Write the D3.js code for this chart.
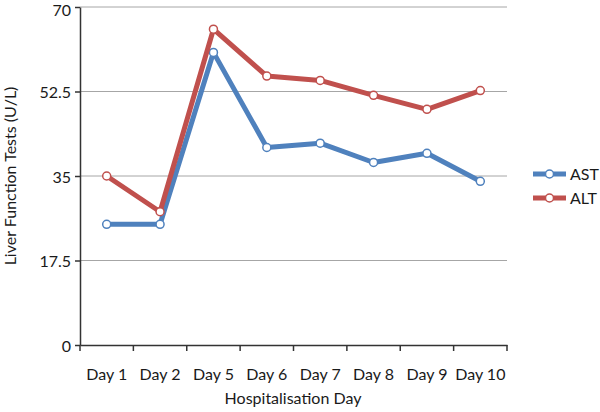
<!DOCTYPE html>
<html><head><meta charset="utf-8">
<script src="https://cdn.jsdelivr.net/npm/d3@7"></script>
<style>body{margin:0;background:#fff}svg{display:block}text{font-family:Lato,sans-serif;fill:#1a1a1a}</style>
</head><body><svg id="c" width="600" height="412"></svg>
<script>
const categories = ["Day 1","Day 2","Day 5","Day 6","Day 7","Day 8","Day 9","Day 10"];
const astValues = [25, 25, 60.6, 40.9, 41.8, 37.8, 39.7, 33.9];
const altValues = [35, 27.6, 65.4, 55.7, 54.8, 51.7, 48.8, 52.7];
const yTicks = [0, 17.5, 35, 52.5, 70];
const seriesNames = ["AST","ALT"];
const colors = ["#4F81BD","#C0504D"];

const FS = 16;
const svg = d3.select("#c");
const m = {l:80, r:507, t:7, b:345};
const x = d3.scaleBand().domain(categories).range([m.l, m.r]);
const y = d3.scaleLinear().domain([0,70]).range([m.b, m.t]);

// gridlines
svg.append("g").selectAll("line").data(yTicks.filter(d=>d>0)).join("line")
  .attr("x1", m.l).attr("x2", m.r).attr("y1", d=>y(d)).attr("y2", d=>y(d))
  .attr("stroke", "#a6a6a6").attr("stroke-width", 1);

// y axis
const ya = svg.append("g").attr("transform", `translate(${m.l},0)`)
  .call(d3.axisLeft(y).tickValues(yTicks).tickFormat(d=>String(d)).tickSize(5).tickSizeOuter(0));
ya.select(".domain").attr("stroke", "#333").attr("stroke-width", 1.5);
ya.selectAll(".tick line").attr("stroke", "#333").attr("stroke-width", 1.5);
ya.selectAll(".tick text").attr("font-size", FS).attr("x", -9)
  .attr("dy", d => d === 70 ? "0.5em" : "0.38em")
  .style("font-family", "Lato,sans-serif").attr("fill", "#1a1a1a");

// x axis
const xa = svg.append("g").attr("transform", `translate(0,${m.b})`)
  .call(d3.axisBottom(x).tickSize(0).tickSizeOuter(0));
xa.select(".domain").attr("stroke", "#333").attr("stroke-width", 1.5);
xa.selectAll(".tick text").attr("font-size", FS).attr("y", 24)
  .style("font-family", "Lato,sans-serif").attr("fill", "#1a1a1a");
// band boundary ticks
const bounds = categories.map(c=>x(c)).concat([m.r]);
svg.append("g").selectAll("line").data(bounds).join("line")
  .attr("x1", d=>d).attr("x2", d=>d).attr("y1", m.b).attr("y2", m.b+6)
  .attr("stroke", "#333").attr("stroke-width", 1.5);

const cx = c => x(c) + x.bandwidth()/2;
const line = d3.line().x((d,i)=>cx(categories[i])).y(d=>y(d));
[astValues, altValues].forEach((vals, k) => {
  svg.append("path").attr("d", line(vals)).attr("fill", "none")
    .attr("stroke", colors[k]).attr("stroke-width", 5).attr("stroke-linejoin", "round");
  svg.append("g").selectAll("circle").data(vals).join("circle")
    .attr("cx", (d,i)=>cx(categories[i])).attr("cy", d=>y(d)).attr("r", 4)
    .attr("fill", "#fff").attr("stroke", colors[k]).attr("stroke-width", 1.5);
});

// legend
seriesNames.forEach((n, k) => {
  const ly = 174 + k*24;
  const g = svg.append("g");
  g.append("line").attr("x1", 533).attr("x2", 566).attr("y1", ly).attr("y2", ly)
    .attr("stroke", colors[k]).attr("stroke-width", 5);
  g.append("circle").attr("cx", 549.5).attr("cy", ly).attr("r", 4)
    .attr("fill", "#fff").attr("stroke", colors[k]).attr("stroke-width", 1.5);
  g.append("text").attr("x", 570).attr("y", ly).attr("dy", "0.36em").attr("font-size", FS).text(n);
});

// axis titles
svg.append("text").attr("x", 293).attr("y", 404).attr("text-anchor", "middle").attr("font-size", FS).text("Hospitalisation Day");
svg.append("text").attr("transform", "translate(16,176) rotate(-90)").attr("text-anchor", "middle").attr("font-size", FS).text("Liver Function Tests (U/L)");
</script></body></html>
